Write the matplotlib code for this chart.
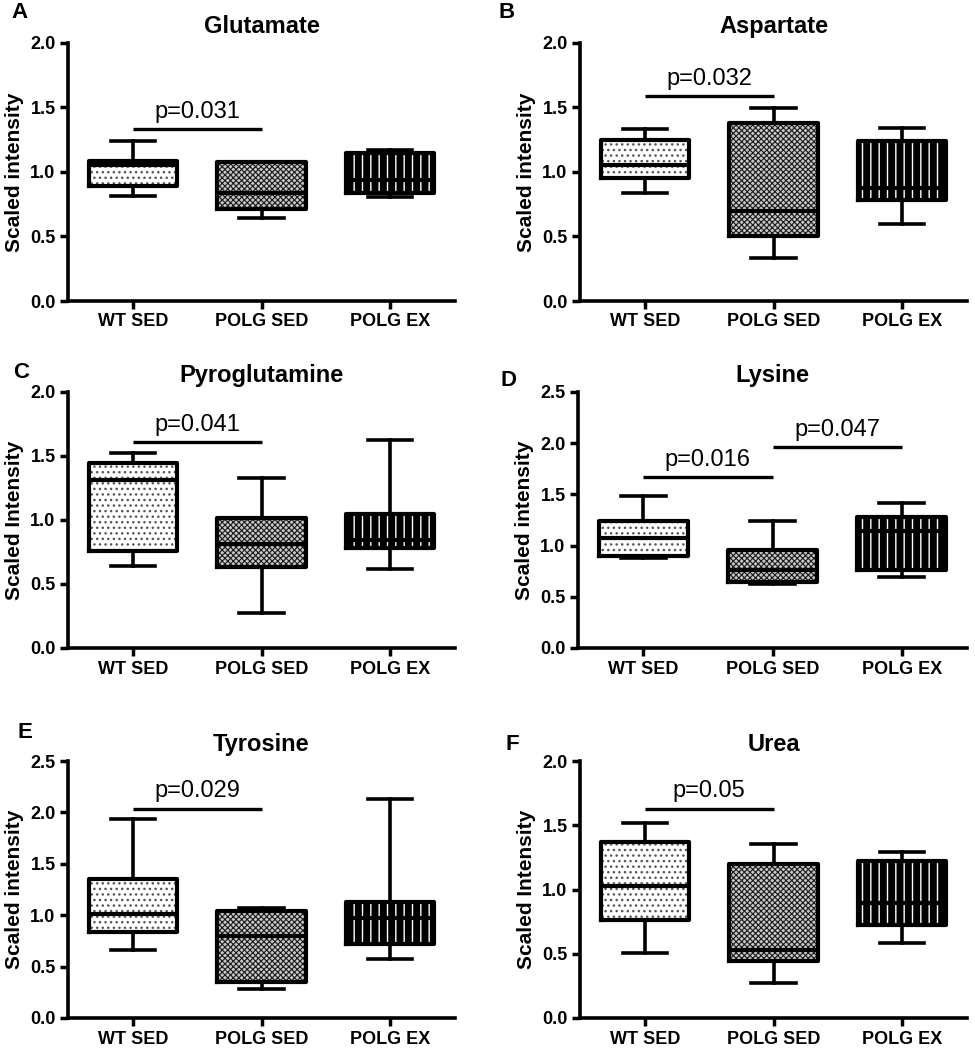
import matplotlib
matplotlib.use("Agg")
import matplotlib.pyplot as plt

plt.rcParams['font.family'] = ['Liberation Sans', 'DejaVu Sans']
plt.rcParams['hatch.linewidth'] = 1.0

groups = ['WT SED', 'POLG SED', 'POLG EX']

# per group: whisker low, Q1, median, Q3, whisker high
glutamate = [[0.815, 0.895, 1.056, 1.087, 1.242],
             [0.642, 0.717, 0.836, 1.074, 1.074],
             [0.805, 0.841, 0.939, 1.151, 1.167]]
aspartate = [[0.841, 0.952, 1.056, 1.250, 1.332],
             [0.331, 0.505, 0.699, 1.379, 1.496],
             [0.595, 0.784, 0.878, 1.242, 1.340]]
pyroglutamine = [[0.642, 0.758, 1.312, 1.447, 1.527],
                 [0.273, 0.631, 0.813, 1.013, 1.332],
                 [0.616, 0.779, 0.844, 1.044, 1.623]]
lysine = [[0.877, 0.903, 1.071, 1.240, 1.484],
          [0.627, 0.643, 0.763, 0.958, 1.244],
          [0.692, 0.763, 1.146, 1.276, 1.419]]
tyrosine = [[0.663, 0.834, 1.012, 1.352, 1.934],
            [0.281, 0.346, 0.802, 1.041, 1.074],
            [0.576, 0.721, 0.970, 1.132, 2.135]]
urea = [[0.505, 0.763, 1.030, 1.366, 1.514],
        [0.272, 0.440, 0.530, 1.195, 1.351],
        [0.582, 0.724, 0.893, 1.221, 1.294]]

# significance bars: (group from, group to, bar height, label)
p_glutamate = [(1, 2, 1.333, 'p=0.031')]
p_aspartate = [(1, 2, 1.586, 'p=0.032')]
p_pyroglutamine = [(1, 2, 1.610, 'p=0.041')]
p_lysine = [(1, 2, 1.666, 'p=0.016'), (2, 3, 1.964, 'p=0.047')]
p_tyrosine = [(1, 2, 2.037, 'p=0.029')]
p_urea = [(1, 2, 1.630, 'p=0.05')]

titles = ['Glutamate', 'Aspartate', 'Pyroglutamine', 'Lysine', 'Tyrosine', 'Urea']
letters = ['A', 'B', 'C', 'D', 'E', 'F']
ylabels = ['Scaled intensity', 'Scaled intensity', 'Scaled Intensity',
           'Scaled intensity', 'Scaled intensity', 'Scaled Intensity']
ymax = [2.0, 2.0, 2.0, 2.5, 2.5, 2.0]
panel_data = [glutamate, aspartate, pyroglutamine, lysine, tyrosine, urea]
panel_p = [p_glutamate, p_aspartate, p_pyroglutamine, p_lysine, p_tyrosine, p_urea]

W, H = 975, 1050
fig = plt.figure(figsize=(W / 100, H / 100), dpi=100)

# axes boxes in pixels: left, top, right, bottom
boxes_px = [(68, 43, 455, 301), (580, 43, 967, 301),
            (68, 392, 455, 648), (578, 392, 967, 648),
            (68, 761, 455, 1018), (580, 761, 967, 1018)]
letter_px = [(20, 12), (507, 12), (21, 373), (509, 380), (25, 732), (512, 744)]

fills = [dict(facecolor='white', hatch='...', edgecolor='#555555', hlw=1.0),
         dict(facecolor='#c8c8c8', hatch='xxxxxx', edgecolor='#1a1a1a', hlw=0.8),
         dict(facecolor='black', hatch='||', edgecolor='white', hlw=1.0)]

positions = [1, 2, 3]

for k in range(6):
    l, t, r, b = boxes_px[k]
    ax = fig.add_axes([l / W, 1 - b / H, (r - l) / W, (b - t) / H])
    stats = []
    for g, row in enumerate(panel_data[k]):
        stats.append(dict(whislo=row[0], q1=row[1], med=row[2], q3=row[3],
                          whishi=row[4], fliers=[], label=groups[g]))

    # filled, hatched boxes
    art = ax.bxp(stats, positions=positions, widths=0.69, patch_artist=True,
                 showcaps=False, showfliers=False,
                 whiskerprops=dict(linewidth=0),
                 medianprops=dict(linewidth=0),
                 manage_ticks=False)
    for patch, st in zip(art['boxes'], fills):
        patch.set_facecolor(st['facecolor'])
        patch.set_edgecolor(st['edgecolor'])
        patch.set_hatch(st['hatch'])
        if hasattr(patch, 'set_hatch_linewidth'):
            patch.set_hatch_linewidth(st['hlw'])
        patch.set_linewidth(0)
        patch.set_zorder(1)

    # outlines, whiskers, caps, medians
    ax.bxp(stats, positions=positions, widths=0.69, capwidths=0.35,
           showfliers=False, manage_ticks=False,
           boxprops=dict(color='black', linewidth=3.0, zorder=3),
           whiskerprops=dict(color='black', linewidth=2.6, zorder=3),
           capprops=dict(color='black', linewidth=2.6, zorder=3),
           medianprops=dict(color='black', linewidth=3.0, zorder=3))

    for i, j, y, txt in panel_p[k]:
        ax.plot([i, j], [y, y], color='black', linewidth=2.4,
                solid_capstyle='butt', zorder=3)
        ax.annotate(txt, xy=((i + j) / 2, y), xytext=(0, 8),
                    textcoords='offset points', ha='center', va='baseline',
                    fontsize=17)

    ax.set_xlim(0.494, 3.506)
    ax.set_ylim(0, ymax[k])
    yt = [v * 0.5 for v in range(int(ymax[k] / 0.5) + 1)]
    ax.set_yticks(yt, [f'{v:.1f}' for v in yt], fontsize=13, fontweight='bold')
    ax.set_xticks(positions, groups, fontsize=13, fontweight='bold')
    ax.tick_params(width=2.5, length=6, pad=3)
    for s in ['top', 'right']:
        ax.spines[s].set_visible(False)
    for s in ['left', 'bottom']:
        ax.spines[s].set_linewidth(2.6)
    ax.set_ylabel(ylabels[k], fontsize=15, fontweight='bold')
    ax.yaxis.set_label_coords(-0.114, 0.5)
    ax.set_title(titles[k], fontsize=17, fontweight='bold', pad=7)

    lx, ly = letter_px[k]
    fig.text(lx / W, 1 - ly / H, letters[k], fontsize=16, fontweight='bold',
             ha='center', va='center')

fig.savefig('out.png', dpi=100)
